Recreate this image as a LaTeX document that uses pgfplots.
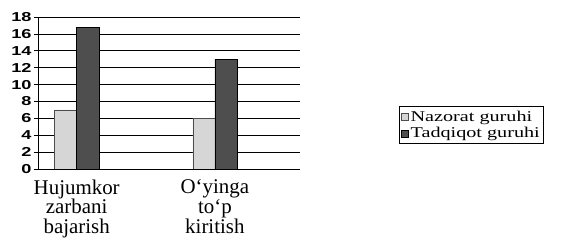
\documentclass[border=0pt]{standalone}
\usepackage{fontspec}
\setmainfont{Liberation Serif}
\setsansfont{Liberation Sans}
\usepackage{graphicx}
\usepackage{pgfplots}
\pgfplotsset{compat=1.18}
\definecolor{lightbar}{HTML}{D6D6D6}
\definecolor{darkbar}{HTML}{4E4E4E}
\begin{document}
\begin{tikzpicture}
\path[use as bounding box] (0,0) rectangle (572bp,241bp);
\begin{axis}[
  at={(38bp,72bp)}, anchor=south west,
  scale only axis, width=262bp, height=152bp,
  ybar=0pt, bar width=0.16,
  xmin=-0.28, xmax=1.616,
  ymin=0, ymax=18, ytick={0,2,...,18},
  axis x line*=bottom, axis y line*=left,
  axis line style={black, line width=0.8pt, -},
  ymajorgrids, grid style={black, line width=0.6pt},
  xtick={0,1},
  xticklabels={{Hujumkor\\zarbani\\bajarish},{O`yinga\\to`p\\kiritish}},
  xticklabel style={align=center, font=\rmfamily\fontsize{21}{20}\selectfont, yshift=-3bp},
  major x tick style={draw=none},
  extra x ticks={0.239,0.761,1.254}, extra x tick labels={},
  extra x tick style={tick style={black}, major tick length=3bp, tick align=outside},
  ytick align=outside, major tick length=4bp,
  ytick style={black, line width=0.6pt},
  yticklabel={\scalebox{1.4}[1]{\sffamily\bfseries\fontsize{13}{13}\selectfont\pgfmathprintnumber{\tick}}},
  yticklabel style={xshift=1bp},
  /pgf/number format/assume math mode=true,
  legend style={at={(1.377,0.289)}, anchor=west, draw=black, line width=0.8pt,
    font=\rmfamily\fontsize{15}{18}\selectfont, inner xsep=2bp, inner ysep=2bp,
    row sep=1bp},
  legend cell align=left,
  legend image code/.code={\draw[#1, line width=0.5pt] (0.1em,-0.36em) rectangle (0.8em,0.36em);},
]
\addplot[fill=lightbar, draw=black!70, line width=0.5pt] coordinates {(0,7) (1,6)};
\addlegendentry{\scalebox{1.35}[1]{Nazorat guruhi}}
\addplot[fill=darkbar, draw=black, line width=0.5pt] coordinates {(0,16.8) (1,13)};
\addlegendentry{\scalebox{1.35}[1]{Tadqiqot guruhi}}
\end{axis}
\end{tikzpicture}
\end{document}
